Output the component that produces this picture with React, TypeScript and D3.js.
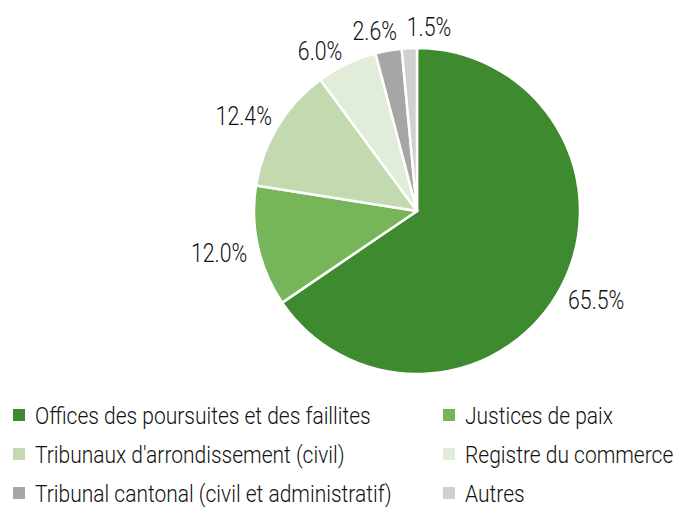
import React from "react";
import * as d3 from "d3";

const categories = [
  "Offices des poursuites et des faillites",
  "Justices de paix",
  "Tribunaux d'arrondissement (civil)",
  "Registre du commerce",
  "Tribunal cantonal (civil et administratif)",
  "Autres",
];
const values = [65.5, 12.0, 12.4, 6.0, 2.6, 1.5];
const colors = ["#3d8a2f", "#76b55a", "#c3d9b0", "#e1ecd9", "#a6a6a6", "#d0d0d0"];

const W = 677;
const H = 507;
const cx = 417;
const cy = 211;
const R = 163;
const FONT = "Roboto, 'Noto Sans', sans-serif";
const LFS = 26;
const LSX = 0.82;
const GFS = 24;
const GSX = 0.875;

type Lab = { a: number; x: number; y: number; text: string; w: number; h: number };

function place(l: Lab) {
  const dx = Math.sin(l.a);
  const dy = -Math.cos(l.a);
  const pad = 11;
  l.x = dx * R + dx * (l.w / 2 + pad);
  l.y = dy * R + dy * (l.h / 2 + pad);
}

export default function App() {
  const pie = d3.pie<number>().sort(null).value((d) => d)(values);
  const arc = d3.arc<d3.PieArcDatum<number>>().innerRadius(0).outerRadius(R);

  const labels: Lab[] = pie.map((p, i) => {
    const text = values[i].toFixed(1) + "%";
    const l: Lab = { a: (p.startAngle + p.endAngle) / 2, x: 0, y: 0, text, w: text.length * 11.5, h: 24 };
    place(l);
    return l;
  });
  for (let iter = 0; iter < 600; iter++) {
    let moved = false;
    for (let i = 0; i < labels.length; i++) {
      for (let j = i + 1; j < labels.length; j++) {
        const a = labels[i];
        const b = labels[j];
        const ox = (a.w + b.w) / 2 + 8 - Math.abs(a.x - b.x);
        const oy = a.h + 6 - Math.abs(a.y - b.y);
        if (ox > 0 && oy > 0) {
          a.a -= 0.004;
          b.a += 0.004;
          place(a);
          place(b);
          moved = true;
        }
      }
    }
    if (!moved) break;
  }

  const legendCols = [13, 443];
  const legendRows = [415, 454, 493];

  return (
    <svg width={W} height={H} style={{ position: "absolute", left: 0, top: 0, background: "#fff" }}>
      <g transform={`translate(${cx},${cy})`}>
        {pie.map((p, i) => (
          <path key={i} d={arc(p) || ""} fill={colors[i]} stroke="#fff" strokeWidth={2.5} strokeLinejoin="round" />
        ))}
        {labels.map((l, i) => (
          <g key={i} transform={`translate(${l.x},${l.y + 2}) scale(${LSX},1)`}>
            <text textAnchor="middle" dominantBaseline="central" fontFamily={FONT} fontWeight={300} fontSize={LFS} fill="#111">
              {l.text}
            </text>
          </g>
        ))}
      </g>
      {categories.map((c, i) => {
        const x = legendCols[i % 2];
        const y = legendRows[Math.floor(i / 2)];
        return (
          <g key={i} transform={`translate(${x},${y})`}>
            <rect x={0} y={-6} width={12} height={12} fill={colors[i]} />
            <g transform={`translate(22,1) scale(${GSX},1)`}>
              <text dominantBaseline="central" fontFamily={FONT} fontWeight={300} fontSize={GFS} fill="#111">
                {c}
              </text>
            </g>
          </g>
        );
      })}
    </svg>
  );
}
